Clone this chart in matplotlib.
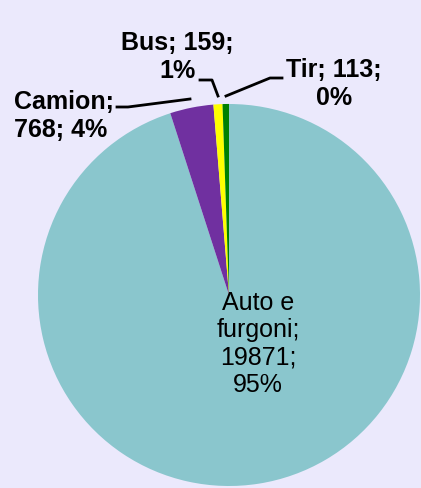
import matplotlib
matplotlib.use("Agg")
import matplotlib.pyplot as plt

categories = ["Auto e furgoni", "Camion", "Bus", "Tir"]
values = [19871, 768, 159, 113]
pct_labels = ["95%", "4%", "1%", "0%"]
colors = ["#8AC6CD", "#7030A0", "#FFFF00", "#008000"]
bg = "#EBE9FC"

W, H = 421, 489
fig = plt.figure(figsize=(W / 100, H / 100), dpi=100, facecolor=bg)
ax = fig.add_axes([0, 0, 1, 1])
ax.set_facecolor(bg)

def py(y):
    return H - y

cx, cy, r = 229, py(296), 191
ax.pie(values, colors=colors, startangle=90, counterclock=False,
       center=(cx, cy), radius=r, explode=[0, 0.042, 0.042, 0.042],
       wedgeprops=dict(linewidth=0), frame=True)
ax.set_xlim(0, W)
ax.set_ylim(0, H)
ax.set_aspect("equal")
ax.axis("off")

bold = dict(family=["Liberation Sans", "DejaVu Sans"], fontweight="bold",
            fontsize=18, color="black", linespacing=1.2)

# Auto e furgoni (inside)
ax.text(258, py(344), f"Auto e\nfurgoni;\n{values[0]};\n{pct_labels[0]}",
        ha="center", va="center", family=["Liberation Sans", "DejaVu Sans"],
        fontsize=18, color="black", linespacing=1.16)

# Camion
ax.text(14, py(116), f"{categories[1]};\n{values[1]}; {pct_labels[1]}",
        ha="left", va="center", **bold)
ax.plot([117, 128, 190], [py(108), py(108), py(100)], color="black", lw=2)

# Bus
ax.text(177, py(57), f"{categories[2]}; {values[2]};\n{pct_labels[2]}",
        ha="center", va="center", **bold)
ax.plot([200, 212, 218], [py(81), py(81), py(97)], color="black", lw=2)

# Tir
ax.text(334, py(84), f"{categories[3]}; {values[3]};\n{pct_labels[3]}",
        ha="center", va="center", **bold)
ax.plot([282, 270, 226], [py(79), py(79), py(97)], color="black", lw=2)

fig.savefig("out.png", dpi=100, facecolor=bg)
